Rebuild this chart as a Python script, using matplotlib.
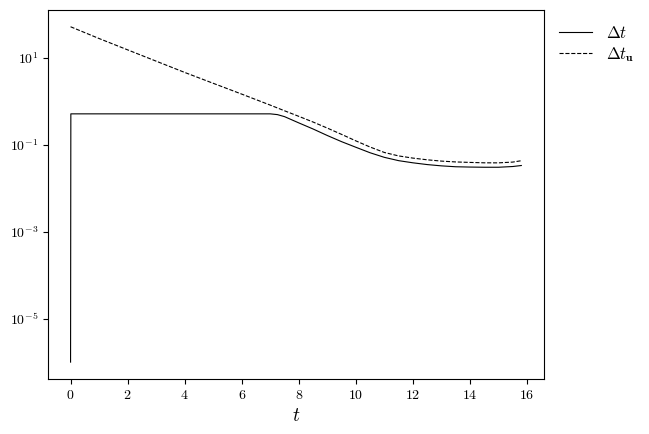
import numpy as np
import matplotlib
matplotlib.use("Agg")
import matplotlib.pyplot as plt
from matplotlib.ticker import NullLocator

plt.rcParams['font.family'] = 'serif'
plt.rcParams['font.serif'] = ['cmr10']
plt.rcParams['mathtext.fontset'] = 'cm'
plt.rcParams['axes.formatter.use_mathtext'] = True
plt.rcParams['axes.unicode_minus'] = False

# time step history
t_dt = [0.0, 0.01, 7.0, 7.25, 7.5, 8.0, 8.5, 9.0, 9.5, 10.0, 10.5, 11.0,
        11.5, 12.0, 12.5, 13.0, 13.5, 14.0, 14.5, 15.0, 15.5, 15.8]
dt = [1e-6, 0.51, 0.51, 0.49, 0.44, 0.316, 0.229, 0.162, 0.117, 0.087, 0.065, 0.051,
      0.0428, 0.0382, 0.0348, 0.0325, 0.0310, 0.0305, 0.0302, 0.0302, 0.0314, 0.0331]

t_dtu = [0.0, 1.0, 2.0, 3.0, 4.0, 5.0, 6.0, 7.0, 7.5, 8.0, 8.5, 9.0, 9.5, 10.0,
         10.5, 11.0, 11.5, 12.0, 12.5, 13.0, 13.5, 14.0, 14.5, 15.0, 15.5, 15.8]
dtu = [51.3, 27.5, 15.1, 8.3, 4.57, 2.57, 1.45, 0.81, 0.60, 0.447, 0.331, 0.240, 0.172, 0.122,
       0.088, 0.066, 0.055, 0.049, 0.0448, 0.0418, 0.0400, 0.0390, 0.0382, 0.0381, 0.0397, 0.0427]

yticks = [1e-5, 1e-3, 1e-1, 1e1]

fig = plt.figure(figsize=(6.49, 4.34), dpi=100)
ax = fig.add_axes([0.074, 0.127, 0.764, 0.850])

ax.plot(t_dt, dt, color='black', lw=0.8, ls='-', label=r'$\Delta t$')
ax.plot(t_dtu, dtu, color='black', lw=0.8, ls='--', label=r'$\Delta t_{\mathbf{u}}$')
ax.set_yscale('log')
ax.set_yticks(yticks)
ax.yaxis.set_minor_locator(NullLocator())
ax.set_xticks(np.arange(0, 17, 2))
ax.set_xlabel(r'$t$', fontsize=14)
ax.tick_params(labelsize=10)

ax.legend(loc='upper left', bbox_to_anchor=(1.0, 1.0), frameon=False, fontsize=12,
          handlelength=2.0, labelspacing=0.25, handletextpad=0.8)

fig.savefig('out.png', dpi=100)
